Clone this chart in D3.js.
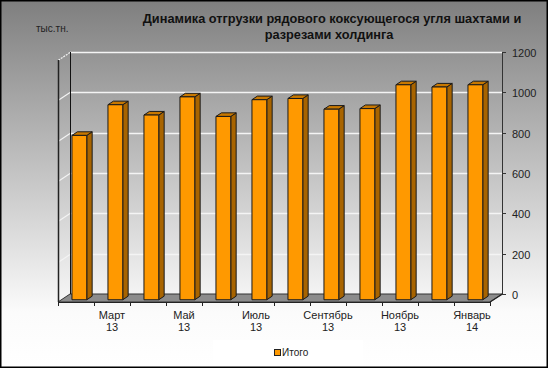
<!DOCTYPE html>
<html>
<head>
<meta charset="utf-8">
<script src="https://cdn.jsdelivr.net/npm/d3@7"></script>
<style>
    body { margin: 0; background: #fff; }
    svg { display: block; font-family: "Liberation Sans", Arial, sans-serif; }
</style>
</head>
<body>
<div id="chart"></div>
<script>
'use strict';

// данные
const months = ['Февраль', 'Март', 'Апрель', 'Май', 'Июнь', 'Июль',
    'Август', 'Сентябрь', 'Октябрь', 'Ноябрь', 'Декабрь', 'Январь'];
const years = ['13', '13', '13', '13', '13', '13', '13', '13', '13', '13', '13', '14'];
const totals = [815, 967, 916, 1006, 909, 992, 998, 945, 948, 1066, 1055, 1066];
const yTicks = [0, 200, 400, 600, 800, 1000, 1200];

const width = 548;
const height = 368;

// задняя стенка и глубина
const wall = { left: 70, right: 502, top: 52, bottom: 294 };
const depthX = -12;
const depthY = 8;

const svg = d3.select('#chart').append('svg')
    .attr('width', width)
    .attr('height', height);

const defs = svg.append('defs');
const grad = defs.append('linearGradient')
    .attr('id', 'bg')
    .attr('x1', 0).attr('y1', 0).attr('x2', 0).attr('y2', 1);
grad.append('stop').attr('offset', '0%').attr('stop-color', '#7f7f7f');
grad.append('stop').attr('offset', '85%').attr('stop-color', '#fbfbfb');
grad.append('stop').attr('offset', '100%').attr('stop-color', '#ffffff');

svg.append('rect')
    .attr('x', 0.75).attr('y', 0.75)
    .attr('width', width - 1.5).attr('height', height - 1.5)
    .attr('fill', 'url(#bg)')
    .attr('stroke', '#000')
    .attr('stroke-width', 1.5);

const x = d3.scaleBand()
    .domain(months.map((m, i) => i))
    .range([wall.left, wall.right]);

const y = d3.scaleLinear()
    .domain([0, 1200])
    .range([wall.bottom, wall.top]);

// точка на глубине f (0 - задняя стенка, 1 - передний край)
function pt(px, py, f) {
    return [px + depthX * f, py + depthY * f];
}

function poly(points) {
    return points.map(p => p.join(',')).join(' ');
}

// пол
svg.append('polygon')
    .attr('points', poly([
        pt(wall.left, wall.bottom, 0), pt(wall.right, wall.bottom, 0),
        pt(wall.right, wall.bottom, 1), pt(wall.left, wall.bottom, 1)
    ]))
    .attr('fill', '#8c8c8c')
    .attr('stroke', '#333')
    .attr('stroke-width', 1);

// сетка
const grid = svg.append('g');
yTicks.filter(t => t > 0).forEach((t) => {
    var gy = Math.round(y(t)) + 0.5;
    grid.append('line')
        .attr('x1', wall.left).attr('y1', gy)
        .attr('x2', wall.right).attr('y2', gy)
        .attr('stroke', '#f4f4f4')
        .attr('stroke-width', 1.5);
    var p = pt(wall.left, gy, 1);
    grid.append('line')
        .attr('x1', wall.left).attr('y1', gy)
        .attr('x2', p[0]).attr('y2', p[1])
        .attr('stroke', '#f4f4f4')
        .attr('stroke-width', 1.2)
        .attr('stroke-dasharray', t === 1200 ? '2,1' : null);
});

// левая стенка
svg.append('line')
    .attr('x1', wall.left + 0.5).attr('y1', wall.top)
    .attr('x2', wall.left + 0.5).attr('y2', wall.bottom)
    .attr('stroke', '#111').attr('stroke-width', 1);
svg.append('line')
    .attr('x1', pt(wall.left, 0, 1)[0] + 0.5).attr('y1', pt(0, wall.top, 1)[1])
    .attr('x2', pt(wall.left, 0, 1)[0] + 0.5).attr('y2', pt(0, wall.bottom, 1)[1])
    .attr('stroke', '#222').attr('stroke-width', 1.5);

// правая ось
const axisG = svg.append('g');
axisG.append('line')
    .attr('x1', wall.right + 0.5).attr('y1', wall.top)
    .attr('x2', wall.right + 0.5).attr('y2', wall.bottom)
    .attr('stroke', '#333');
axisG.append('line')
    .attr('x1', wall.right + 0.5).attr('y1', wall.bottom)
    .attr('x2', pt(wall.right, 0, 1)[0]).attr('y2', pt(0, wall.bottom, 1)[1])
    .attr('stroke', '#222').attr('stroke-width', 1.2);
yTicks.forEach((t) => {
    var ty = Math.round(y(t)) + 0.5;
    axisG.append('line')
        .attr('x1', wall.right).attr('y1', ty)
        .attr('x2', wall.right + 4).attr('y2', ty)
        .attr('stroke', '#333');
    axisG.append('text')
        .attr('x', wall.right + 10).attr('y', ty + 4)
        .attr('font-size', '11px')
        .attr('fill', '#222')
        .text(t);
});

// нижняя ось по переднему краю
const frontY = pt(0, wall.bottom, 1)[1];
const xFront = d3.scaleBand()
    .domain(x.domain())
    .range([wall.left + depthX, wall.right + depthX]);

const bottomG = svg.append('g');
bottomG.append('line')
    .attr('x1', xFront.range()[0]).attr('y1', frontY + 0.5)
    .attr('x2', xFront.range()[1]).attr('y2', frontY + 0.5)
    .attr('stroke', '#222').attr('stroke-width', 1.2);
xFront.domain().concat([months.length]).forEach((i) => {
    var tx = i < months.length ? xFront(i) : xFront.range()[1];
    tx = Math.round(tx) + 0.5;
    bottomG.append('line')
        .attr('x1', tx).attr('y1', frontY)
        .attr('x2', tx).attr('y2', frontY + 4)
        .attr('stroke', '#222');
});
months.forEach((m, i) => {
    if (i % 2 === 0) {
        return;
    }
    var cx = xFront(i) + xFront.bandwidth() / 2;
    var label = bottomG.append('text')
        .attr('x', cx)
        .attr('y', 319)
        .attr('text-anchor', 'middle')
        .attr('font-size', '11px')
        .attr('fill', '#222');
    label.append('tspan').attr('x', cx).text(m);
    label.append('tspan').attr('x', cx).attr('dy', 12).text(years[i]);
});

// столбцы
const barFront = 0.72;
const barBack = 0.27;
const barHalf = 7.4;

const bars = svg.append('g');
totals.forEach((v, i) => {
    var cx = x(i) + x.bandwidth() / 2;
    var l = cx - barHalf;
    var r = cx + barHalf;
    var top = y(v);
    var base = y(0);

    var fl = pt(l, top, barFront), fr = pt(r, top, barFront);
    var fbl = pt(l, base, barFront), fbr = pt(r, base, barFront);
    var bl = pt(l, top, barBack), br = pt(r, top, barBack);
    var bbr = pt(r, base, barBack);

    var g = bars.append('g')
        .attr('stroke', '#1a1a1a')
        .attr('stroke-width', 1)
        .attr('stroke-linejoin', 'round');
    // бок
    g.append('polygon')
        .attr('points', poly([fr, br, bbr, fbr]))
        .attr('fill', '#a86400');
    // верх
    g.append('polygon')
        .attr('points', poly([fl, fr, br, bl]))
        .attr('fill', '#c87800');
    // фронт
    g.append('polygon')
        .attr('points', poly([fl, fr, fbr, fbl]))
        .attr('fill', '#ff9900');
});

// заголовок
const title = svg.append('text')
    .attr('text-anchor', 'middle')
    .attr('font-size', '12.75px')
    .attr('font-weight', 'bold')
    .attr('fill', '#111');
title.append('tspan').attr('x', 332).attr('y', 23)
    .text('Динамика отгрузки рядового коксующегося угля шахтами и');
title.append('tspan').attr('x', 329).attr('y', 39)
    .text('разрезами холдинга');

svg.append('text')
    .attr('x', 36).attr('y', 32)
    .attr('font-size', '10px')
    .attr('fill', '#222')
    .text('тыс.тн.');

// легенда
const legend = svg.append('g');
legend.append('rect')
    .attr('x', 213).attr('y', 340)
    .attr('width', 150).attr('height', 25)
    .attr('fill', '#ffffff');
legend.append('rect')
    .attr('x', 274.5).attr('y', 349.5)
    .attr('width', 6).attr('height', 6)
    .attr('fill', '#ff9900')
    .attr('stroke', '#222')
    .attr('stroke-width', 1);
legend.append('text')
    .attr('x', 282).attr('y', 356)
    .attr('font-size', '10px')
    .attr('fill', '#222')
    .text('Итого');
</script>
</body>
</html>
